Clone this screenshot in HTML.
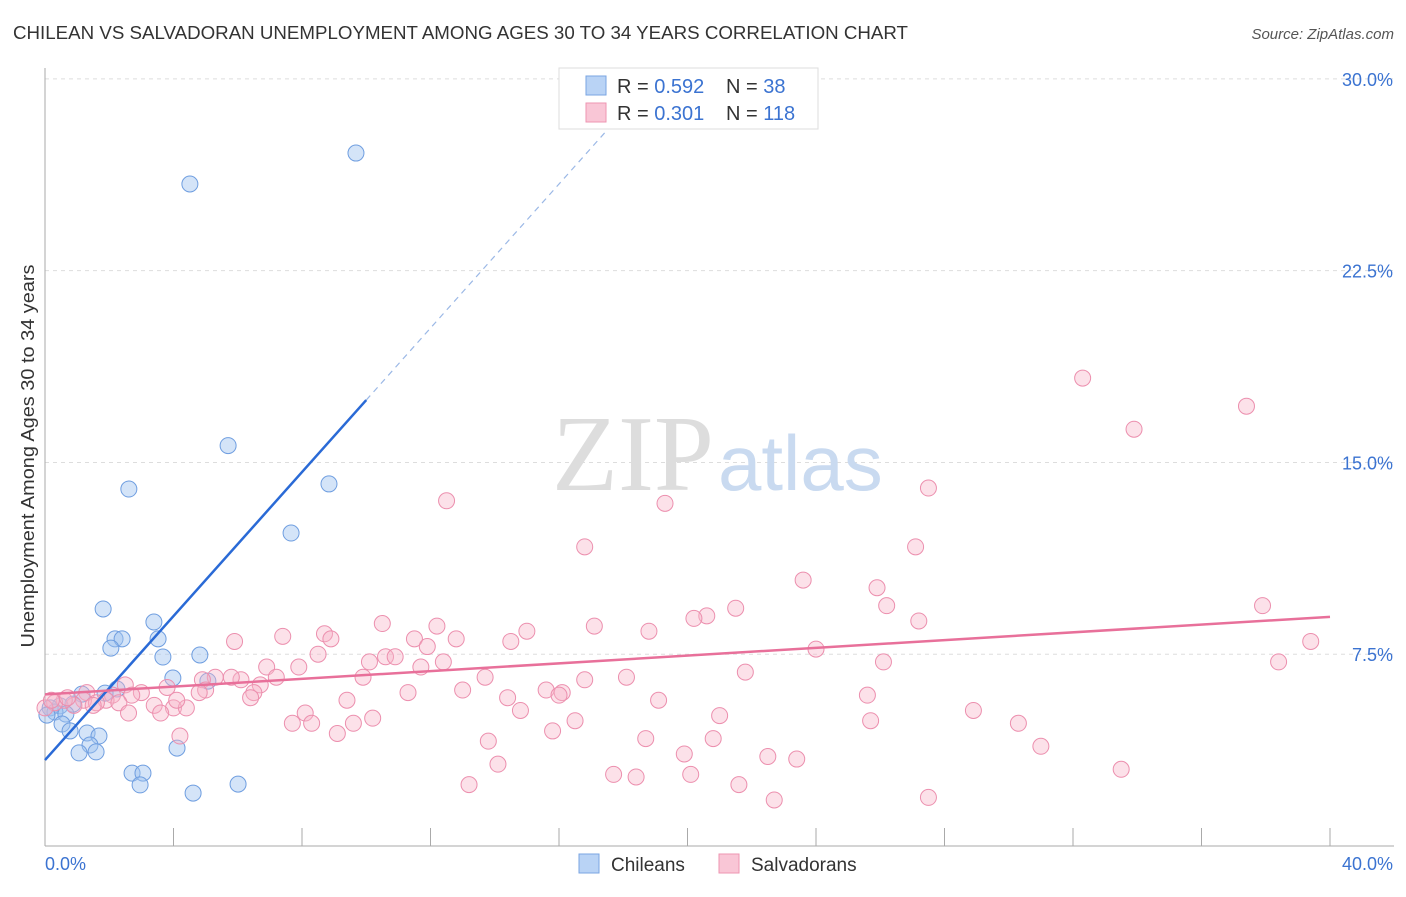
<!DOCTYPE html>
<html><head><meta charset="utf-8"><style>
body{margin:0;background:#fff;font-family:"Liberation Sans",sans-serif}
svg text{font-family:"Liberation Sans",sans-serif}
</style></head><body>
<svg id="chart" width="1406" height="892" viewBox="0 0 1406 892">
<text x="13" y="39" font-size="18" fill="#333" textLength="895" lengthAdjust="spacingAndGlyphs">CHILEAN VS SALVADORAN UNEMPLOYMENT AMONG AGES 30 TO 34 YEARS CORRELATION CHART</text>
<text x="1394" y="39" font-size="15" fill="#555" font-style="italic" text-anchor="end">Source: ZipAtlas.com</text>
<g id="grid"></g>
<text x="714" y="490" font-size="108" fill="#ddd" text-anchor="end" style="font-family:'Liberation Serif',serif">ZIP</text>
<text x="718" y="490" font-size="78" fill="#c9daf0">atlas</text>
<g id="ticks"></g>
<g id="pts"></g>
<g id="lines"></g>
<text transform="translate(34,456) rotate(-90)" font-size="18" fill="#333" text-anchor="middle" textLength="383" lengthAdjust="spacingAndGlyphs">Unemployment Among Ages 30 to 34 years</text>
<g>
<rect x="559" y="68" width="259" height="61" fill="#fff" stroke="#ddd"/>
<rect x="586" y="76" width="20" height="19" fill="#b9d3f5" stroke="#7aa5e2"/>
<rect x="586" y="103" width="20" height="19" fill="#f9c6d6" stroke="#ee95b2"/>
<text x="617" y="93" font-size="20" fill="#333">R = <tspan fill="#3b73d1">0.592</tspan></text>
<text x="726" y="93" font-size="20" fill="#333">N = <tspan fill="#3b73d1"> 38</tspan></text>
<text x="617" y="120" font-size="20" fill="#333">R = <tspan fill="#3b73d1">0.301</tspan></text>
<text x="726" y="120" font-size="20" fill="#333">N = <tspan fill="#3b73d1">118</tspan></text>
</g>
<g>
<rect x="579" y="854" width="20" height="19" fill="#b9d3f5" stroke="#7aa5e2"/>
<text x="611" y="871" font-size="19" fill="#333">Chileans</text>
<rect x="719" y="854" width="20" height="19" fill="#f9c6d6" stroke="#ee95b2"/>
<text x="751" y="871" font-size="19" fill="#333">Salvadorans</text>
</g>
</svg>
<script>
const xTicks=[0,40];
const yTicks=[7.5,15,22.5,30];
const blueX=[4.51,9.68,5.70,2.61,8.84,7.66,1.81,3.39,2.18,2.40,2.05,3.52,3.67,4.82,3.98,5.07,2.24,1.87,1.15,0.87,0.47,0.16,0.31,0.06,0.65,0.53,0.78,1.31,1.68,1.40,1.06,1.59,4.11,2.71,3.05,2.96,6.01,4.61];
const blueY=[25.89,27.1,15.66,13.96,14.16,12.24,9.27,8.76,8.10,8.10,7.74,8.10,7.39,7.47,6.57,6.45,6.14,5.98,5.94,5.55,5.48,5.40,5.24,5.12,5.16,4.77,4.50,4.42,4.30,3.95,3.64,3.68,3.83,2.85,2.85,2.39,2.42,2.07];
const pinkX=[32.3,37.4,33.9,12.5,19.3,27.5,16.8,27.1,23.6,25.9,26.2,37.9,21.5,20.6,20.2,27.2,17.1,18.8,10.5,12.2,15.0,8.7,7.4,11.5,12.8,8.9,5.9,14.5,24.0,11.9,8.5,10.6,10.9,10.1,12.4,7.9,6.9,11.7,26.1,38.4,39.4,21.8,9.9,7.2,13.7,16.8,18.1,6.1,5.8,5.3,4.9,6.7,13.0,11.3,15.6,16.1,16.0,5.0,3.8,4.8,6.5,6.4,2.5,3.0,2.7,2.1,1.3,1.2,1.9,2.3,1.6,0.9,0.6,0.3,3.4,4.0,4.4,9.4,14.4,19.1,25.6,3.6,8.1,10.2,14.8,21.0,28.9,16.5,9.6,7.7,8.3,15.8,25.7,30.3,9.1,4.2,13.8,20.8,18.7,19.9,22.5,23.4,31.0,14.1,17.7,18.4,20.1,33.5,13.2,21.6,22.7,27.5,0.0,0.2,0.7,1.5,2.6,4.1];
const pinkY=[18.3,17.2,16.3,13.5,13.4,14.0,11.7,11.7,10.4,10.1,9.4,9.4,9.3,9.0,8.9,8.8,8.6,8.4,8.7,8.6,8.4,8.3,8.2,8.1,8.1,8.1,8.0,8.0,7.7,7.8,7.5,7.4,7.4,7.2,7.2,7.0,7.0,7.0,7.2,7.2,8.0,6.8,6.6,6.6,6.6,6.5,6.6,6.5,6.6,6.6,6.5,6.3,6.1,6.0,6.1,6.0,5.9,6.1,6.2,6.0,6.0,5.8,6.3,6.0,5.9,5.9,6.0,5.7,5.7,5.6,5.6,5.5,5.7,5.6,5.5,5.4,5.4,5.7,5.8,5.7,5.9,5.2,5.2,5.0,5.3,5.1,5.3,4.9,4.8,4.8,4.8,4.5,4.9,4.8,4.4,4.3,4.1,4.2,4.2,3.6,3.5,3.4,3.9,3.2,2.8,2.7,2.8,3.0,2.4,2.4,1.8,1.9,5.4,5.7,5.8,5.5,5.2,5.7];
const blueFit=[3.36,1.408];
const pinkFit=[5.93,0.0758];
const X=v=>45+v*32.125, Y=v=>846-v*25.57;
const NS='http://www.w3.org/2000/svg';
function mk(tag,attrs,parent){const e=document.createElementNS(NS,tag);for(const k in attrs)e.setAttribute(k,attrs[k]);document.getElementById(parent).appendChild(e);return e;}
yTicks.forEach(t=>{
  const l=mk('line',{x1:45,x2:1394,y1:Y(t),y2:Y(t),stroke:'#ddd','stroke-dasharray':'4 4'},'grid');
  
  
  const tx=mk('text',{x:1393,y:Y(t)+7,'font-size':18,fill:'#3b73d1','text-anchor':'end'},'ticks');
  tx.textContent=t.toFixed(1)+'%';
  
  
});
const ax=mk('line',{x1:45,x2:45,y1:68,y2:846,stroke:'#aaa'},'ticks');


const bx=mk('line',{x1:45,x2:1394,y1:846,y2:846,stroke:'#aaa'},'ticks');


for(let i=0;i<=10;i++){const v=i*4;const t=mk('line',{x1:X(v),x2:X(v),y1:828,y2:846,stroke:'#aaa'},'ticks');
  
  }
xTicks.forEach((t,i)=>{const tx=mk('text',{x:i?1393:45,y:870,'font-size':18,fill:'#3b73d1','text-anchor':i?'end':'start'},'ticks');
  tx.textContent=t.toFixed(1)+'%';
  
  });
blueX.forEach((v,i)=>{const c=mk('circle',{cx:X(v),cy:Y(blueY[i]),r:8,fill:'rgba(160,195,240,0.45)',stroke:'#6f9ee0','stroke-width':1},'pts');
  
  });
pinkX.forEach((v,i)=>{const c=mk('circle',{cx:X(v),cy:Y(pinkY[i]),r:8,fill:'rgba(248,180,200,0.4)',stroke:'#ec8fae','stroke-width':1},'pts');
  
  });
const bl=mk('line',{x1:X(0),y1:Y(blueFit[0]),x2:X(10),y2:Y(blueFit[0]+blueFit[1]*10),stroke:'#2a6ad6','stroke-width':2.5},'lines');


const bd=mk('line',{x1:X(10),y1:Y(blueFit[0]+blueFit[1]*10),x2:X(18.2),y2:Y(blueFit[0]+blueFit[1]*18.2),stroke:'#9bb8e6','stroke-width':1.2,'stroke-dasharray':'6 5'},'lines');


const pl=mk('line',{x1:X(0),y1:Y(pinkFit[0]),x2:X(40),y2:Y(pinkFit[0]+pinkFit[1]*40),stroke:'#e8709a','stroke-width':2.5},'lines');


</script>
</body></html>
